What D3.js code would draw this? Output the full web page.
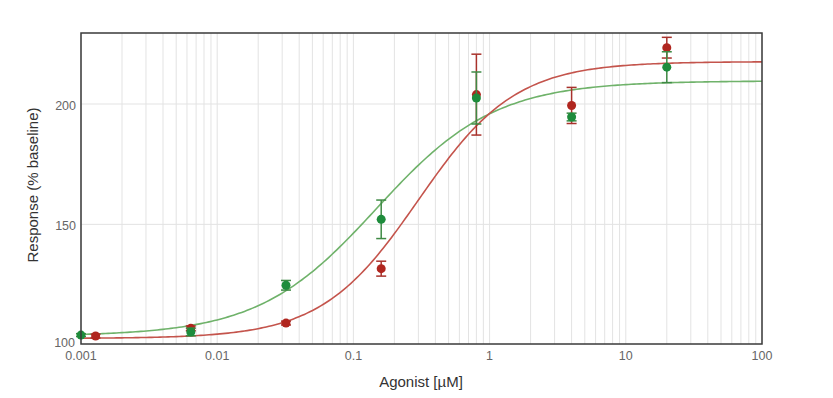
<!DOCTYPE html>
<html><head><meta charset="utf-8">
<script src="https://cdn.jsdelivr.net/npm/d3@7"></script>
<style>body{margin:0;background:#fff}svg{display:block}</style>
</head><body><svg id="c" width="833" height="398"></svg>
<script>
// Data
const redConc = [0.00128, 0.0064, 0.032, 0.16, 0.8, 4, 20];
const redMean = [103.6, 106.8, 109.0, 131.6, 203.9, 199.4, 223.4];
const redErr  = [0.8, 1.0, 0.8, 3.1, 16.8, 7.5, 4.3];
const greenConc = [0.001, 0.0064, 0.032, 0.16, 0.8, 4, 20];
const greenMean = [104.0, 105.3, 124.7, 152.1, 202.5, 194.6, 215.3];
const greenErr  = [0.6, 1.6, 2.0, 8.0, 10.8, 1.6, 6.4];
// 4PL fit parameters [bottom, top, EC50, hill]
const redFit = [102.6, 217.6, 0.30, 1.22];
const greenFit = [103.6, 209.6, 0.148, 1.0];
const xTicks = [0.001, 0.01, 0.1, 1, 10, 100];
const xTickLabels = ["0.001", "0.01", "0.1", "1", "10", "100"];
const yTicks = [100, 150, 200];

const svg = d3.select("#c");
const m = {l: 81, r: 762, t: 33, b: 344};
const x = d3.scaleLog().domain([0.001, 100]).range([m.l, m.r]);
const y = d3.scaleLinear().domain([100.3, 229.5]).range([m.b, m.t]);

// grid
const minor = [];
for (let e = -3; e < 2; e++) for (let k = 1; k <= 9; k++) minor.push(k * Math.pow(10, e));
minor.push(100);
svg.append("g").selectAll("line").data(minor).join("line")
  .attr("x1", d => x(d)).attr("x2", d => x(d)).attr("y1", m.t).attr("y2", m.b)
  .attr("stroke", "#e3e3e3").attr("stroke-width", 1);
svg.append("g").selectAll("line").data([150, 200]).join("line")
  .attr("x1", m.l).attr("x2", m.r).attr("y1", d => y(d)).attr("y2", d => y(d))
  .attr("stroke", "#e3e3e3").attr("stroke-width", 1);

// curves
const fourPL = (p, c) => p[0] + (p[1] - p[0]) / (1 + Math.pow(p[2] / c, p[3]));
const cs = d3.range(-3, 2.0001, 0.02).map(e => Math.pow(10, e));
const line = d3.line().x(d => x(d[0])).y(d => y(d[1]));
svg.append("path").datum(cs.map(c => [c, fourPL(greenFit, c)]))
  .attr("d", line).attr("fill", "none").attr("stroke", "#6fb26a").attr("stroke-width", 1.6);
svg.append("path").datum(cs.map(c => [c, fourPL(redFit, c)]))
  .attr("d", line).attr("fill", "none").attr("stroke", "#c4544c").attr("stroke-width", 1.6);

// error bars + points
function series(conc, mean, err, barCol, ptCol) {
  const g = svg.append("g");
  const d = conc.map((c, i) => ({c, m: mean[i], e: err[i]}));
  g.selectAll(".v").data(d).join("line")
    .attr("x1", d => x(d.c)).attr("x2", d => x(d.c))
    .attr("y1", d => y(d.m - d.e)).attr("y2", d => y(d.m + d.e))
    .attr("stroke", barCol).attr("stroke-width", 1.5);
  [-1, 1].forEach(s => {
    g.selectAll(".cap" + s).data(d).join("line")
      .attr("x1", d => x(d.c) - 5).attr("x2", d => x(d.c) + 5)
      .attr("y1", d => y(d.m + s * d.e)).attr("y2", d => y(d.m + s * d.e))
      .attr("stroke", barCol).attr("stroke-width", 1.5);
  });
  g.selectAll("circle").data(d).join("circle")
    .attr("cx", d => x(d.c)).attr("cy", d => y(d.m)).attr("r", 4.5).attr("fill", ptCol);
}
series(redConc, redMean, redErr, "#a8322c", "#b0261f");
series(greenConc, greenMean, greenErr, "#3f8a45", "#1e8c3c");

// frame
svg.append("rect").attr("x", m.l).attr("y", m.t).attr("width", m.r - m.l).attr("height", m.b - m.t)
  .attr("fill", "none").attr("stroke", "#3a3a3a").attr("stroke-width", 1.5);

// axes labels
const font = "'Liberation Sans', Arial, sans-serif";
svg.append("g").selectAll("text").data(xTicks).join("text")
  .attr("x", d => x(d)).attr("y", 360).attr("text-anchor", "middle")
  .attr("font-family", font).attr("font-size", 12.5).attr("fill", "#666")
  .text((d, i) => xTickLabels[i]);
svg.append("g").selectAll("text").data(yTicks).join("text")
  .attr("x", d => d === 100 ? 75 : 76).attr("y", d => d === 100 ? 347 : y(d) + 6).attr("text-anchor", "end")
  .attr("font-family", font).attr("font-size", 12.5).attr("fill", "#666")
  .text(d => d);
svg.append("text").attr("x", 421).attr("y", 387).attr("text-anchor", "middle")
  .attr("font-family", font).attr("font-size", 15).attr("fill", "#333").text("Agonist [µM]");
svg.append("text").attr("transform", "translate(38,185) rotate(-90)").attr("text-anchor", "middle")
  .attr("font-family", font).attr("font-size", 15).attr("fill", "#333").text("Response (% baseline)");
</script></body></html>
